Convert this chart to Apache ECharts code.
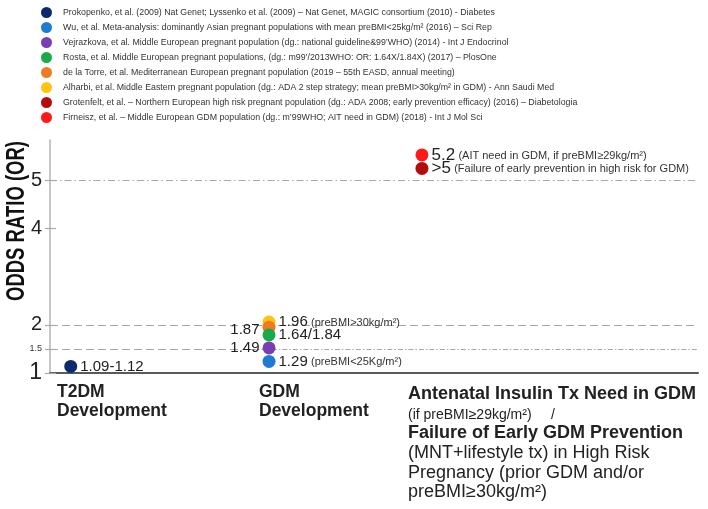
<!DOCTYPE html>
<html>
<head>
<meta charset="utf-8">
<script src="https://cdn.jsdelivr.net/npm/echarts@6.0.0/dist/echarts.min.js"></script>
<style>html,body{margin:0;padding:0;background:#fff}#c{width:708px;height:509px}</style>
</head>
<body>
<div id="c"></div>
<script>
// ---- data ----
const studies = [
  "Prokopenko, et al. (2009) Nat Genet; Lyssenko et al. (2009) – Nat Genet, MAGIC consortium (2010) - Diabetes",
  "Wu, et al. Meta-analysis: dominantly Asian pregnant populations with mean preBMI<25kg/m² (2016) – Sci Rep",
  "Vejrazkova, et al. Middle European pregnant population (dg.: national guideline&99’WHO) (2014) - Int J Endocrinol",
  "Rosta, et al. Middle European pregnant populations, (dg.: m99’/2013WHO: OR: 1.64X/1.84X) (2017) – PlosOne",
  "de la Torre, et al. Mediterranean European pregnant population (2019 – 55th EASD, annual meeting)",
  "Alharbi, et al. Middle Eastern pregnant population (dg.: ADA 2 step strategy; mean preBMI>30kg/m² in GDM) - Ann Saudi Med",
  "Grotenfelt, et al. – Northern European high risk pregnant population (dg.: ADA 2008; early prevention efficacy) (2016) – Diabetologia",
  "Firneisz, et al. – Middle European GDM population (dg.: m’99WHO; AIT need in GDM) (2018) - Int J Mol Sci"
];
const categories = ["T2DM Development", "GDM Development", "Antenatal Insulin Tx Need in GDM / Failure of Early GDM Prevention"];
const categoryPos = [3.2, 33.8, 57.4];           // position of each outcome along the x scale (0-100)
const studyCategory = [0, 1, 1, 1, 1, 1, 2, 2];  // outcome index of each study
const oddsRatio = [1.137, 1.24, 1.52, 1.79, 1.95, 2.055, 5.24, 5.52]; // plotted OR (as drawn)
const orLabelMain = ["1.09-1.12", "1.29", "1.49", "1.64/1.84", "1.87", "1.96", ">5", "5.2"];
const orLabelNote = ["", "(preBMI<25Kg/m²)", "", "", "", "(preBMI>30kg/m²)",
  "(Failure of early prevention in high risk for GDM)", "(AIT need in GDM, if preBMI≥29kg/m²)"];
const yTickValues = [1, 1.5, 2, 4, 5];
const colors = ["#0b2a6e", "#1f7bd1", "#7a3db3", "#1aaa4b", "#f07a22", "#ffc20f", "#b30c0c", "#ff1919"];

// ---- chart ----
const chart = echarts.init(document.getElementById('c'), null, {renderer: 'canvas'});
const labelLeft = [false, false, true, false, true, false, false, false];
const labelShift = [0, 0, 0, 0, 3, 0, 0, 0];
const zOrder = [2, 2, 2, 5, 4, 3, 2, 2];
const narrow = "'Liberation Sans Narrow', 'Liberation Sans', Arial, sans-serif";

const series = studies.map((name, i) => ({
  name: name,
  type: 'scatter',
  z: zOrder[i],
  symbol: 'circle',
  symbolSize: 13,
  itemStyle: {color: colors[i], opacity: 1},
  data: [[categoryPos[studyCategory[i]], oddsRatio[i]]],
  label: {
    show: true,
    position: labelLeft[i] ? 'left' : 'right',
    distance: 3,
    offset: [0, labelShift[i]],
    formatter: orLabelNote[i] ? '{a|' + orLabelMain[i] + '} {b|' + orLabelNote[i] + '}' : '{a|' + orLabelMain[i] + '}',
    rich: {
      a: {fontSize: studyCategory[i] === 2 ? 17 : 15, color: '#222', fontFamily: narrow},
      b: {fontSize: 11, color: '#333', fontFamily: narrow, padding: [2, 0, 0, 0]}
    }
  }
}));

series[0].markLine = {
  silent: true, symbol: 'none', label: {show: false}, z: 1,
  data: [
    [{xAxis: 0, yAxis: 5, lineStyle: {type: [7, 3, 1.5, 3]}}, {xAxis: 100, yAxis: 5}],
    [{xAxis: 0, yAxis: 2, lineStyle: {type: [8, 4]}}, {xAxis: 100, yAxis: 2}],
    [{xAxis: 0, yAxis: 1.5, lineStyle: {type: [8, 4]}}, {xAxis: 31, yAxis: 1.5}],
    [{xAxis: 31, yAxis: 1.5, lineStyle: {type: [5, 2, 1.5, 2]}}, {xAxis: 100, yAxis: 1.5}]
  ],
  lineStyle: {color: '#a8a8a8', width: 1.2}
};

const option = {
  animation: false,
  backgroundColor: '#fff',
  legend: {
    orient: 'vertical', left: 36, top: 2,
    icon: 'circle', itemWidth: 11, itemHeight: 11, itemGap: 4,
    selectedMode: false,
    textStyle: {fontSize: 8.8, color: '#333', fontFamily: narrow, padding: [0, 0, 0, 6], lineHeight: 11},
    data: studies
  },
  grid: {left: 50, right: 10, top: 140, bottom: 136},
  xAxis: {
    type: 'value', min: 0, max: 100,
    axisLine: {show: true, lineStyle: {color: '#5a5a5a', width: 2}},
    axisTick: {show: false}, axisLabel: {show: false}, splitLine: {show: false}
  },
  yAxis: [{
    type: 'value', min: 1, max: 5.83,
    axisLine: {show: true, lineStyle: {color: '#b3b3b3', width: 1.5}},
    axisTick: {show: true, customValues: yTickValues, length: 5, lineStyle: {color: '#aaa', width: 1.2}},
    axisLabel: {
      show: true, customValues: yTickValues, margin: 8, color: '#222',
      formatter: v => v === 1.5 ? '{s|1.5}' : (v === 1 ? '{l|1}' : '{m|' + v + '}'),
      rich: {
        s: {fontSize: 9, fontFamily: 'Liberation Sans', color: '#333'},
        m: {fontSize: 20, fontFamily: 'Liberation Sans', color: '#222'},
        l: {fontSize: 23, fontFamily: 'Liberation Sans', color: '#222'}
      }
    },
    splitLine: {show: false}
  }, {
    type: 'value', min: 1, max: 5.83, position: 'left',
    axisLine: {show: false},
    axisTick: {show: true, inside: true, customValues: yTickValues, length: 6, lineStyle: {color: '#aaa', width: 1.2}},
    axisLabel: {show: false}, splitLine: {show: false}
  }],
  series: series,
  graphic: [
    {type: 'text', x: 17, y: 221, rotation: Math.PI / 2, scaleX: 0.74,
     style: {text: 'ODDS RATIO (OR)', font: 'bold 25px "Liberation Sans"', fill: '#111', textAlign: 'center', textVerticalAlign: 'middle'}},
    {type: 'text', x: 57, y: 392, style: {text: 'T2DM', font: 'bold 17.5px "Liberation Sans"', fill: '#222', textVerticalAlign: 'middle'}},
    {type: 'text', x: 57, y: 411, style: {text: 'Development', font: 'bold 17.5px "Liberation Sans"', fill: '#222', textVerticalAlign: 'middle'}},
    {type: 'text', x: 259, y: 392, style: {text: 'GDM', font: 'bold 17.5px "Liberation Sans"', fill: '#222', textVerticalAlign: 'middle'}},
    {type: 'text', x: 259, y: 411, style: {text: 'Development', font: 'bold 17.5px "Liberation Sans"', fill: '#222', textVerticalAlign: 'middle'}},
    {type: 'text', x: 408, y: 394, style: {text: 'Antenatal Insulin Tx Need in GDM', font: 'bold 18px "Liberation Sans"', fill: '#222', textVerticalAlign: 'middle'}},
    {type: 'text', x: 408, y: 415, style: {text: '(if preBMI≥29kg/m²)     /', font: '14px "Liberation Sans Narrow", "Liberation Sans"', fill: '#222', textVerticalAlign: 'middle'}},
    {type: 'text', x: 408, y: 433, style: {text: 'Failure of Early GDM Prevention', font: 'bold 18px "Liberation Sans"', fill: '#222', textVerticalAlign: 'middle'}},
    {type: 'text', x: 408, y: 453, style: {text: '(MNT+lifestyle tx) in High Risk', font: '18px "Liberation Sans"', fill: '#222', textVerticalAlign: 'middle'}},
    {type: 'text', x: 408, y: 473, style: {text: 'Pregnancy (prior GDM and/or', font: '18px "Liberation Sans"', fill: '#222', textVerticalAlign: 'middle'}},
    {type: 'text', x: 408, y: 492, style: {text: 'preBMI≥30kg/m²)', font: '18px "Liberation Sans"', fill: '#222', textVerticalAlign: 'middle'}}
  ]
};
chart.setOption(option);
</script>
</body>
</html>
